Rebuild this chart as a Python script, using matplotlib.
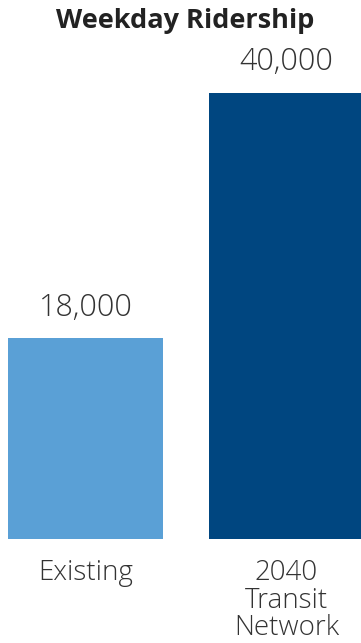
import matplotlib
matplotlib.use("Agg")
import matplotlib.pyplot as plt

categories = ["Existing", "2040\nTransit\nNetwork"]
riders = [18000, 40000]
value_labels = ["18,000", "40,000"]
colors = ["#5AA0D6", "#004680"]

plt.rcParams["font.family"] = ["Open Sans", "DejaVu Sans"]

W, H = 361, 643
fig = plt.figure(figsize=(W / 100, H / 100), dpi=100)
# axes from bar bottom (539 px from top) up to the top of the figure
ax = fig.add_axes([8 / W, 104 / H, 1 - 8 / W, 539 / H])

x = [0, 1]
ax.bar(x, riders, width=0.771, color=colors, align="center")
ax.set_xlim(-0.3856, 1.3706)
ax.set_ylim(0, 539 / 446 * 40000)

for xi, v, lab in zip(x, riders, value_labels):
    ax.annotate(lab, (xi, v), xytext=(0, 22), textcoords="offset points",
                ha="center", va="center", fontsize=22, color="#333333",
                fontweight="light")

ax.set_xticks(x)
ax.set_xticklabels(categories, fontsize=20, color="#333333",
                   fontweight="light", linespacing=0.97)
ax.tick_params(axis="x", length=0, pad=14.5)
ax.set_yticks([])
for s in ax.spines.values():
    s.set_visible(False)

fig.text(185.5 / W, 1 - 21 / H, "Weekday Ridership", ha="center", va="center",
         fontsize=19.5, fontweight="bold", color="#222222")

fig.savefig("out.png", dpi=100)
